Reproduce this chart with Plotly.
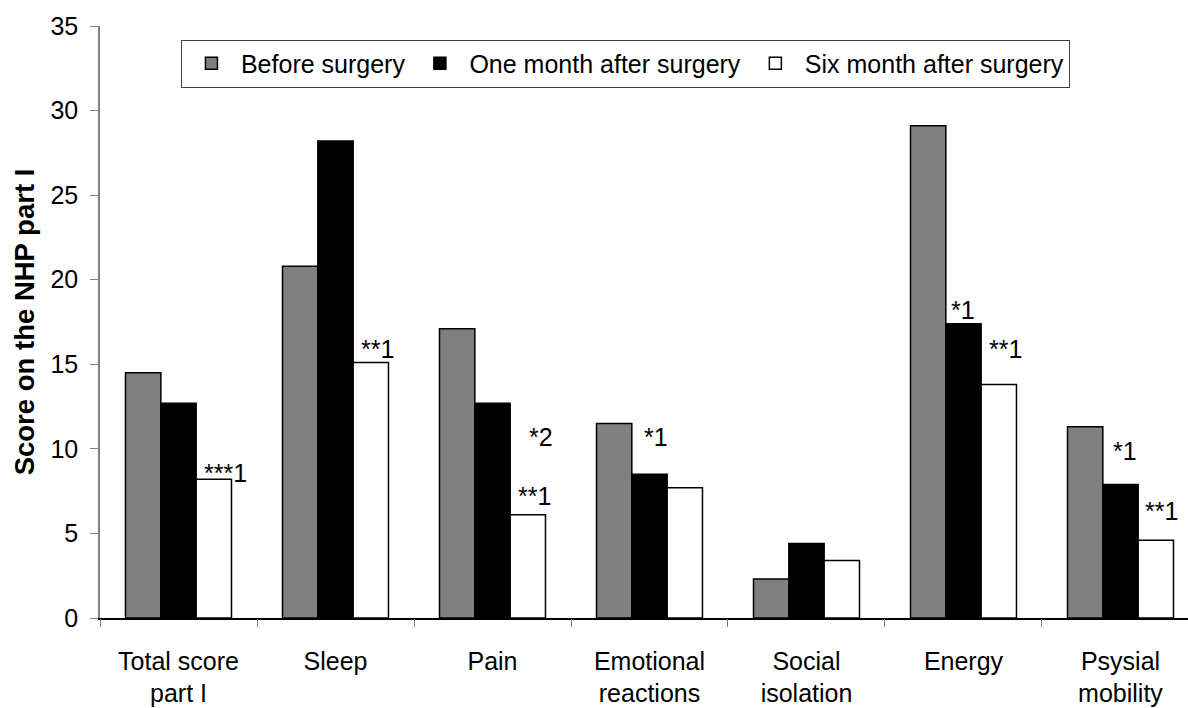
import plotly.graph_objects as go

categories = ["Total score<br>part I", "Sleep", "Pain", "Emotional<br>reactions",
              "Social<br>isolation", "Energy", "Psysial<br>mobility"]
before = [14.5, 20.8, 17.1, 11.5, 2.3, 29.1, 11.3]
one_month = [12.7, 28.2, 12.7, 8.5, 4.4, 17.4, 7.9]
six_month = [8.2, 15.1, 6.1, 7.7, 3.4, 13.8, 4.6]
series_names = ["Before surgery", "One month after surgery", "Six month after surgery"]
series_colors = ["#808080", "#000000", "#ffffff"]

# significance labels: (text, x position in category units, y value)
sig_text = ["***1", "**1", "*2", "**1", "*1", "*1", "**1", "*1", "**1"]
sig_x = [0.30, 1.27, 2.31, 2.27, 3.04, 5.00, 5.27, 6.03, 6.26]
sig_y = [8.6, 15.9, 10.7, 7.2, 10.7, 18.2, 15.9, 9.9, 6.3]

FONT = "Liberation Sans, Arial, sans-serif"
fs = 25

fig = go.Figure()
idx = list(range(len(categories)))
for name, vals, col in zip(series_names, [before, one_month, six_month], series_colors):
    fig.add_trace(go.Bar(x=idx, y=vals, name=name,
                         marker=dict(color=col, line=dict(color="#000000", width=1.5))))

for t, x, y in zip(sig_text, sig_x, sig_y):
    fig.add_annotation(x=x, y=y, text=t, showarrow=False, xref="x", yref="y",
                       font=dict(family=FONT, size=fs, color="#000000"))

fig.update_layout(
    width=1188, height=708,
    margin=dict(l=100, r=0, t=26, b=90),
    paper_bgcolor="white", plot_bgcolor="white",
    barmode="group", bargap=0.325, bargroupgap=0,
    font=dict(family=FONT, size=fs, color="#000000"),
    showlegend=True,
    legend=dict(orientation="h", x=0.0744, y=0.977, xanchor="left", yanchor="top",
                bordercolor="#404040", borderwidth=1, bgcolor="white",
                font=dict(family=FONT, size=25), traceorder="normal",
                itemwidth=49),
    xaxis=dict(tickmode="array", tickvals=idx, ticktext=categories, automargin=False,
               range=[-0.5, 6.43], showline=True, linecolor="#000000", linewidth=1.5,
               ticks="", showgrid=False, zeroline=False, ticklabelstandoff=20,
               tickfont=dict(family=FONT, size=fs)),
    yaxis=dict(range=[0, 35], dtick=5, showline=True, linecolor="#808080", linewidth=1.5,
               automargin=False, ticklabelstandoff=7,
               ticks="outside", ticklen=8, tickcolor="#808080", showgrid=False,
               zeroline=False, tickfont=dict(family=FONT, size=fs),
               title=dict(text="<b>Score on the NHP part I</b>",
                          font=dict(family=FONT, size=27.5), standoff=8)),
)

# category boundary ticks on the x axis
fig.update_layout(xaxis2=dict(overlaying="x", range=[-0.5, 6.43], automargin=False,
                              tickmode="array", tickvals=[i - 0.5 for i in range(8)],
                              ticktext=[""] * 8, ticks="outside", ticklen=8,
                              tickcolor="#808080", showgrid=False, zeroline=False,
                              showline=False, side="bottom", anchor="y"))
fig.add_trace(go.Scatter(x=[None], y=[None], xaxis="x2", showlegend=False, hoverinfo="skip"))

fig.write_html("out.html", config={"displayModeBar": False},
               post_script="document.body.style.margin='0';document.body.style.overflow='hidden';")
